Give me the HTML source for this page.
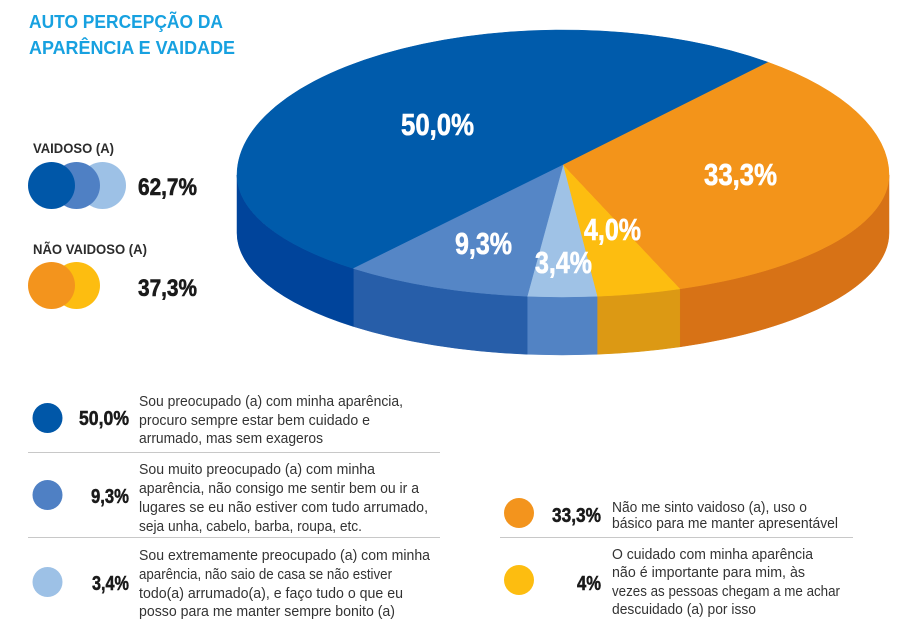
<!DOCTYPE html>
<html>
<head>
<meta charset="utf-8">
<style>
  html,body{margin:0;padding:0;background:#fff;}
  svg{display:block;}
  .t{font-family:"Liberation Sans",sans-serif;font-weight:bold;}
  .n{font-family:"Liberation Sans Narrow","Liberation Sans",sans-serif;font-weight:bold;}
  .d{font-family:"Liberation Sans",sans-serif;font-size:15px;fill:#333;}
</style>
</head>
<body>
<svg width="900" height="639" viewBox="0 0 900 639" xmlns="http://www.w3.org/2000/svg">
  <rect width="900" height="639" fill="#fff"/>

  <!-- Title -->
  <text class="t" x="29" y="28" font-size="18" fill="#17a1e0" textLength="194" lengthAdjust="spacingAndGlyphs">AUTO PERCEPÇÃO DA</text>
  <text class="t" x="29" y="54" font-size="18" fill="#17a1e0" textLength="206" lengthAdjust="spacingAndGlyphs">APARÊNCIA E VAIDADE</text>

  <!-- Vaidoso -->
  <text class="t" x="33" y="153" font-size="14" fill="#2b2b2b" textLength="81" lengthAdjust="spacingAndGlyphs">VAIDOSO (A)</text>
  <circle cx="102.5" cy="185.5" r="23.5" fill="#9dc1e6"/>
  <circle cx="76.5" cy="185.5" r="23.5" fill="#4f80c4"/>
  <circle cx="51.5" cy="185.5" r="23.5" fill="#0057a8"/>
  <text class="n" x="138" y="195" font-size="24" fill="#1a1a1a" stroke="#1a1a1a" stroke-width="0.6" textLength="59" lengthAdjust="spacingAndGlyphs">62,7%</text>

  <text class="t" x="33" y="254" font-size="14" fill="#2b2b2b" textLength="114" lengthAdjust="spacingAndGlyphs">NÃO VAIDOSO (A)</text>
  <circle cx="76.5" cy="285.5" r="23.5" fill="#fdbd10"/>
  <circle cx="51.5" cy="285.5" r="23.5" fill="#f3941d"/>
  <text class="n" x="138" y="296" font-size="24" fill="#1a1a1a" stroke="#1a1a1a" stroke-width="0.6" textLength="59" lengthAdjust="spacingAndGlyphs">37,3%</text>

  <!-- Pie sides -->
  <path d="M889,175 A326,122 0 0 1 679.8,288.9 L679.8,346.9 A326,122 0 0 0 889,233 Z" fill="#d77216" stroke="#d77216" stroke-width="0.5"/>
  <path d="M679.8,288.9 A326,122 0 0 1 597.1,296.3 L597.1,354.3 A326,122 0 0 0 679.8,346.9 Z" fill="#dc9914" stroke="#dc9914" stroke-width="0.5"/>
  <path d="M597.1,296.3 A326,122 0 0 1 527.2,296.3 L527.2,354.3 A326,122 0 0 0 597.1,354.3 Z" fill="#5283c4" stroke="#5283c4" stroke-width="0.5"/>
  <path d="M527.2,296.3 A326,122 0 0 1 353.4,268.5 L353.4,326.5 A326,122 0 0 0 527.2,354.3 Z" fill="#275ea9" stroke="#275ea9" stroke-width="0.5"/>
  <path d="M353.4,268.5 A326,122 0 0 1 237,175 L237,233 A326,122 0 0 0 353.4,326.5 Z" fill="#00449b" stroke="#00449b" stroke-width="0.5"/>

  <!-- Pie tops -->
  <path d="M563,165 L353.4,268.5 A326,122 0 0 1 237,175 A326,145 0 0 1 768.2,62.3 Z" fill="#005bab" stroke="#005bab" stroke-width="0.5"/>
  <path d="M563,165 L768.2,62.3 A326,145 0 0 1 889,175 A326,122 0 0 1 679.8,288.9 Z" fill="#f3941a" stroke="#f3941a" stroke-width="0.5"/>
  <path d="M563,165 L679.8,288.9 A326,122 0 0 1 597.1,296.3 Z" fill="#fdbd10" stroke="#fdbd10" stroke-width="0.5"/>
  <path d="M563,165 L597.1,296.3 A326,122 0 0 1 527.2,296.3 Z" fill="#9fc2e6" stroke="#9fc2e6" stroke-width="0.5"/>
  <path d="M563,165 L527.2,296.3 A326,122 0 0 1 353.4,268.5 Z" fill="#5586c6" stroke="#5586c6" stroke-width="0.5"/>

  <!-- Pie labels -->
  <g class="n" font-size="31" fill="#fff" stroke="#fff" stroke-width="0.6">
    <text x="401" y="135" textLength="73" lengthAdjust="spacingAndGlyphs">50,0%</text>
    <text x="704" y="185" textLength="73" lengthAdjust="spacingAndGlyphs">33,3%</text>
    <text x="455" y="254" textLength="57" lengthAdjust="spacingAndGlyphs">9,3%</text>
    <text x="535" y="273" textLength="57" lengthAdjust="spacingAndGlyphs">3,4%</text>
    <text x="584" y="240" textLength="57" lengthAdjust="spacingAndGlyphs">4,0%</text>
  </g>

  <!-- Bottom-left legend -->
  <circle cx="47.5" cy="418" r="15" fill="#0057a8"/>
  <circle cx="47.5" cy="495" r="15" fill="#4f80c4"/>
  <circle cx="47.5" cy="582" r="15" fill="#9dc1e6"/>
  <g class="n" font-size="20" fill="#1a1a1a" stroke="#1a1a1a" stroke-width="0.5">
    <text x="79" y="425" textLength="50" lengthAdjust="spacingAndGlyphs">50,0%</text>
    <text x="91" y="503" textLength="38" lengthAdjust="spacingAndGlyphs">9,3%</text>
    <text x="92" y="590" textLength="37" lengthAdjust="spacingAndGlyphs">3,4%</text>
    <text x="552" y="522" textLength="49" lengthAdjust="spacingAndGlyphs">33,3%</text>
    <text x="577" y="590" textLength="24" lengthAdjust="spacingAndGlyphs">4%</text>
  </g>

  <line x1="28" y1="452.5" x2="440" y2="452.5" stroke="#c8c8c8" stroke-width="1"/>
  <line x1="28" y1="537.5" x2="440" y2="537.5" stroke="#c8c8c8" stroke-width="1"/>
  <line x1="500" y1="537.5" x2="853" y2="537.5" stroke="#c8c8c8" stroke-width="1"/>

  <g class="d">
    <text x="139" y="406" textLength="264" lengthAdjust="spacingAndGlyphs">Sou preocupado (a) com minha aparência,</text>
    <text x="139" y="425" textLength="231" lengthAdjust="spacingAndGlyphs">procuro sempre estar bem cuidado e</text>
    <text x="139" y="443" textLength="184" lengthAdjust="spacingAndGlyphs">arrumado, mas sem exageros</text>

    <text x="139" y="474" textLength="236" lengthAdjust="spacingAndGlyphs">Sou muito preocupado (a) com minha</text>
    <text x="139" y="493" textLength="280" lengthAdjust="spacingAndGlyphs">aparência, não consigo me sentir bem ou ir a</text>
    <text x="139" y="512" textLength="289" lengthAdjust="spacingAndGlyphs">lugares se eu não estiver com tudo arrumado,</text>
    <text x="139" y="531" textLength="223" lengthAdjust="spacingAndGlyphs">seja unha, cabelo, barba, roupa, etc.</text>

    <text x="139" y="560" textLength="291" lengthAdjust="spacingAndGlyphs">Sou extremamente preocupado (a) com minha</text>
    <text x="139" y="579" textLength="253" lengthAdjust="spacingAndGlyphs">aparência, não saio de casa se não estiver</text>
    <text x="139" y="598" textLength="264" lengthAdjust="spacingAndGlyphs">todo(a) arrumado(a), e faço tudo o que eu</text>
    <text x="139" y="616" textLength="256" lengthAdjust="spacingAndGlyphs">posso para me manter sempre bonito (a)</text>

    <text x="612" y="512" textLength="195" lengthAdjust="spacingAndGlyphs">Não me sinto vaidoso (a), uso o</text>
    <text x="612" y="528" textLength="226" lengthAdjust="spacingAndGlyphs">básico para me manter apresentável</text>

    <text x="612" y="559" textLength="201" lengthAdjust="spacingAndGlyphs">O cuidado com minha aparência</text>
    <text x="612" y="577" textLength="193" lengthAdjust="spacingAndGlyphs">não é importante para mim, às</text>
    <text x="612" y="596" textLength="228" lengthAdjust="spacingAndGlyphs">vezes as pessoas chegam a me achar</text>
    <text x="612" y="614" textLength="144" lengthAdjust="spacingAndGlyphs">descuidado (a) por isso</text>
  </g>

  <!-- Right legend circles -->
  <circle cx="519" cy="513" r="15" fill="#f3941d"/>
  <circle cx="519" cy="580" r="15" fill="#fdbd10"/>
</svg>
</body>
</html>
